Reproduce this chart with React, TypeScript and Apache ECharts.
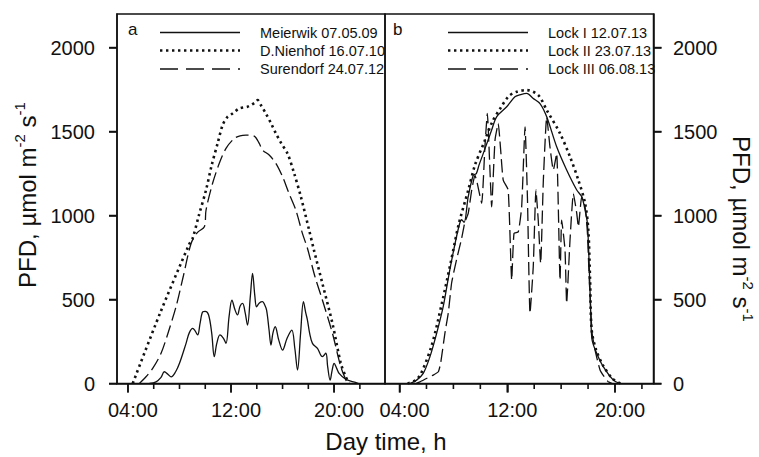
import React, { useEffect, useRef } from "react";
import * as echarts from "echarts";

// ---- data (hour of day, PFD µmol m-2 s-1) ----
const meierwik: [number, number][] = [
  [5.67, 0], [6.18, 10], [6.55, 35], [6.83, 70], [7.1, 55], [7.35, 40], [7.7, 70], [8.0, 120],
  [8.51, 239], [8.75, 300], [9.03, 328], [9.2, 315], [9.41, 289], [9.6, 360], [9.8, 427],
  [10.0, 430], [10.26, 408], [10.5, 300], [10.7, 160], [10.9, 240], [11.14, 289], [11.4, 270],
  [11.61, 239], [11.85, 400], [12.07, 497], [12.3, 440], [12.5, 408], [12.7, 460], [12.9, 477],
  [13.1, 420], [13.28, 348], [13.5, 520], [13.67, 656], [13.85, 520], [13.98, 457], [14.2, 480],
  [14.45, 487], [14.6, 470], [14.76, 437], [14.95, 320], [15.1, 229], [15.25, 300], [15.43, 338],
  [15.7, 260], [16.0, 199], [16.35, 270], [16.72, 318], [16.95, 210], [17.16, 80], [17.4, 300],
  [17.62, 487], [17.8, 420], [17.93, 378], [18.1, 300], [18.32, 239], [18.71, 209], [19.09, 160],
  [19.36, 180], [19.5, 100], [19.69, 20], [19.85, 80], [20.0, 120], [20.2, 90], [20.39, 60],
  [20.9, 25], [21.5, 10], [21.9, 0],
];
const nienhof: [number, number][] = [
  [4.37, 0], [6.5, 420], [8.76, 830], [9.02, 864], [9.5, 1000], [10.06, 1152], [10.5, 1300],
  [10.96, 1430], [11.35, 1539], [11.7, 1585], [12.12, 1608], [12.64, 1638], [13.28, 1648],
  [13.6, 1660], [13.93, 1677], [14.06, 1687], [14.3, 1660], [14.7, 1608], [15.1, 1550],
  [15.48, 1489], [15.9, 1430], [16.38, 1370], [16.9, 1251], [17.42, 1112], [18.06, 914],
  [18.45, 790], [19.09, 596], [19.87, 358], [20.52, 120], [20.9, 40], [21.16, 0],
];
const surendorf: [number, number][] = [
  [4.89, 0], [5.4, 40], [5.92, 90], [6.57, 180], [7.15, 310], [7.73, 457], [8.3, 640], [8.9, 834],
  [9.4, 900], [9.93, 933], [10.06, 1033], [10.57, 1192], [11.09, 1311], [11.61, 1400],
  [12.25, 1459], [12.7, 1475], [13.16, 1479], [13.8, 1473], [14.19, 1430], [14.45, 1390],
  [14.96, 1360], [15.48, 1311], [16.0, 1231], [16.5, 1132], [17.03, 1033], [17.54, 894],
  [17.93, 805], [18.5, 640], [19.09, 497], [19.87, 299], [20.52, 100], [21.03, 0],
];
const lockI: [number, number][] = [
  [4.77, 0], [5.27, 20], [5.76, 60], [6.26, 160], [6.76, 300], [7.25, 460], [7.74, 680],
  [8.36, 920], [8.61, 975], [8.8, 960], [9.1, 1112], [9.48, 1241], [9.7, 1250], [9.9, 1300],
  [10.22, 1370], [10.84, 1509], [11.21, 1588], [11.96, 1648], [12.57, 1707], [13.0, 1720],
  [13.44, 1727], [13.93, 1697], [14.43, 1667], [14.93, 1588], [15.67, 1409], [16.41, 1271],
  [17.16, 1152], [17.53, 1112], [17.78, 1033], [17.95, 953], [18.08, 715], [18.2, 418],
  [18.3, 259], [18.64, 180], [19.13, 100], [19.88, 20], [20.37, 0],
];
const lockII: [number, number][] = [
  [4.6, 0], [5.2, 20], [5.6, 60], [6.4, 230], [7.15, 480], [7.8, 720], [8.4, 950], [9.1, 1150],
  [9.6, 1300], [10.3, 1440], [10.9, 1560], [11.5, 1640], [12.1, 1710], [12.7, 1737],
  [13.44, 1747], [14.3, 1717], [14.93, 1628], [15.92, 1489], [16.66, 1350], [17.28, 1211],
  [17.78, 1073], [18.02, 914], [18.15, 616], [18.27, 318], [18.6, 200], [19.1, 110],
  [19.8, 30], [20.4, 0],
];
const lockIII: [number, number][] = [
  [5.2, 0], [5.52, 10], [6.0, 30], [6.5, 50], [6.88, 70], [7.05, 120], [7.37, 300], [7.62, 420],
  [7.87, 600], [8.24, 740], [8.6, 860], [8.85, 960], [9.1, 1013], [9.36, 1152], [9.6, 1240],
  [9.75, 1200], [10.1, 1073], [10.34, 1409], [10.52, 1608], [10.7, 1300], [10.84, 1052],
  [11.09, 1449], [11.33, 1548], [11.5, 1400], [11.7, 1211], [12.07, 1152], [12.33, 616],
  [12.5, 894], [12.82, 903], [13.07, 1052], [13.32, 1528], [13.5, 1100], [13.69, 418],
  [13.93, 695], [14.13, 1152], [14.3, 973], [14.48, 715], [14.68, 1211], [14.93, 1588],
  [15.17, 1409], [15.42, 1271], [15.67, 1370], [15.92, 616], [16.04, 973], [16.29, 794],
  [16.41, 477], [16.66, 854], [16.91, 1132], [17.16, 1013], [17.28, 933], [17.53, 1112],
  [17.78, 1052], [17.95, 900], [18.1, 600], [18.3, 300], [18.52, 199], [18.89, 80],
  [19.2, 40], [19.5, 10], [19.8, 0],
];

const panelALabels = ["Meierwik 07.05.09", "D.Nienhof 16.07.10", "Surendorf 24.07.12"];
const panelBLabels = ["Lock I 12.07.13", "Lock II 23.07.13", "Lock III 06.08.13"];
const majorHours = [4, 12, 20];
const minorHours = [6, 8, 10, 14, 16, 18, 22];
const yTicks = [0, 500, 1000, 1500, 2000];

const FONT = "'Liberation Sans', Arial, sans-serif";
const INK = "#111";
const SOLID = { color: INK, width: 1.3, type: "solid" as const };
const DOTTED = { color: INK, width: 2.6, type: [2.4, 3.6], cap: "butt" as const };
const DASHED = { color: INK, width: 1.3, type: [13, 5] };

const GRIDS = [
  { left: 117, top: 14, width: 268, height: 369.5, xMin: 3.15, xMax: 23.95 },
  { left: 385, top: 14, width: 268.5, height: 369.5, xMin: 2.92, xMax: 22.86 },
];
const Y_MAX = 2200;

const fmtHour = (v: number) => (v < 10 ? "0" : "") + v + ":00";

function xAx(grid: number) {
  const g = GRIDS[grid];
  return {
    gridIndex: grid, type: "value", min: g.xMin, max: g.xMax, position: "bottom",
    axisLine: { show: true, onZero: false, lineStyle: { color: INK, width: 1.5 } },
    axisTick: { show: true, inside: false, length: 9, customValues: majorHours, lineStyle: { color: INK, width: 1.5 } },
    axisLabel: {
      show: true, customValues: majorHours, formatter: fmtHour, margin: 16, fontSize: 20,
      color: INK, fontFamily: FONT, padding: [0, 0, 0, 10],
    },
    splitLine: { show: false },
  };
}
function yAx(grid: number, pos: "left" | "right", margin: number) {
  return {
    gridIndex: grid, type: "value", min: 0, max: Y_MAX, position: pos,
    axisLine: { show: true, lineStyle: { color: INK, width: 1.5 } },
    axisTick: { show: true, inside: false, length: 8, customValues: yTicks, lineStyle: { color: INK, width: 1.5 } },
    axisLabel: {
      show: true, customValues: yTicks, margin, fontSize: 20, color: INK, fontFamily: FONT,
      formatter: (v: number) => String(v),
    },
    splitLine: { show: false },
  };
}

function legend(x1: number, textX: number, labels: string[], letter: string, letterX: number) {
  const ys = [32.5, 50.5, 69];
  const styles = [
    { stroke: INK, lineWidth: 1.3 },
    { stroke: INK, lineWidth: 2.6, lineDash: [2.4, 3.6] },
    { stroke: INK, lineWidth: 1.3, lineDash: [18, 8] },
  ];
  const els: any[] = [];
  ys.forEach((y, i) => {
    els.push({ type: "line", shape: { x1, y1: y, x2: x1 + 80, y2: y }, style: styles[i], silent: true });
    els.push({
      type: "text", x: textX, y,
      style: { text: labels[i], fontSize: 14.5, fontFamily: FONT, fill: INK, align: "left", verticalAlign: "middle" },
    });
  });
  els.push({
    type: "text", x: letterX, y: 29,
    style: { text: letter, fontSize: 17, fontFamily: FONT, fill: INK, align: "left", verticalAlign: "middle" },
  });
  return els;
}

const titleRich = {
  n: { fontSize: 24, lineHeight: 30, fontFamily: FONT, fill: INK, color: INK },
  s: { fontSize: 15, lineHeight: 15, fontFamily: FONT, fill: INK, color: INK, verticalAlign: "top" },
};

export default function App() {
  const ref = useRef<HTMLDivElement>(null);
  useEffect(() => {
    if (!ref.current) return;
    const chart = echarts.init(ref.current, undefined, { renderer: "svg" });
    const line = (name: string, data: [number, number][], idx: number, ls: any, smooth: number) => ({
      name, type: "line", data, xAxisIndex: idx, yAxisIndex: idx, showSymbol: false, symbol: "none",
      smooth, lineStyle: ls, silent: true, z: 3,
    });
    chart.setOption({
      animation: false,
      backgroundColor: "#fff",
      grid: GRIDS.map((g) => ({
        left: g.left, top: g.top, width: g.width, height: g.height, show: true, borderColor: INK,
        borderWidth: 1.5, backgroundColor: "transparent", outerBoundsMode: "none",
      })),
      xAxis: [xAx(0), xAx(1)],
      yAxis: [yAx(0, "left", 22), yAx(1, "right", 19.5)],
      series: [
        line(panelALabels[0], meierwik, 0, SOLID, 0.35),
        line(panelALabels[1], nienhof, 0, DOTTED, 0.3),
        line(panelALabels[2], surendorf, 0, DASHED, 0.3),
        line(panelBLabels[0], lockI, 1, SOLID, 0.3),
        line(panelBLabels[1], lockII, 1, DOTTED, 0.3),
        line(panelBLabels[2], lockIII, 1, DASHED, 0.15),
      ],
    });

    // axis tick marks, positioned through the chart's scales (with a linear fallback)
    const toPx = (idx: number, h: number, v: number): [number, number] => {
      let r: any = null;
      try { r = chart.convertToPixel({ gridIndex: idx } as any, [h, v]); } catch (e) { r = null; }
      if (Array.isArray(r) && isFinite(r[0]) && isFinite(r[1])) return [r[0], r[1]];
      const g = GRIDS[idx];
      return [
        g.left + ((h - g.xMin) / (g.xMax - g.xMin)) * g.width,
        g.top + g.height - (v / Y_MAX) * g.height,
      ];
    };
    const tickEls: any[] = [];
    const tickRect = (x: number, y: number, w: number, h: number) =>
      tickEls.push({ type: "rect", silent: true, z: 100, shape: { x, y, width: w, height: h }, style: { fill: INK } });
    [0, 1].forEach((idx) => {
      minorHours.forEach((h) => { const [x, y] = toPx(idx, h, 0); tickRect(x - 0.8, y, 1.6, 5.5); });
      majorHours.forEach((h) => { const [x, y] = toPx(idx, h, 0); tickRect(x - 0.8, y, 1.6, 9); });
      yTicks.forEach((v) => {
        const g = GRIDS[idx];
        const [, y] = toPx(idx, g.xMin, v);
        if (idx === 0) tickRect(g.left - 8, y - 0.8, 8, 1.6);
        else tickRect(g.left + g.width, y - 0.8, 8, 1.6);
      });
    });

    chart.setOption({
      graphic: [
        ...legend(160, 260, panelALabels, "a", 128),
        ...legend(448, 548, panelBLabels, "b", 393),
        {
          type: "text", x: 386, y: 441,
          style: { text: "Day time, h", fontSize: 24, fontFamily: FONT, fill: INK, align: "center", verticalAlign: "middle" },
        },
        {
          type: "text", x: 27, y: 195, rotation: Math.PI / 2,
          style: { text: "{n|PFD, µmol m}{s|-2}{n| s}{s|-1}", rich: titleRich, align: "center", verticalAlign: "middle" },
        },
        {
          type: "text", x: 741, y: 229, rotation: -Math.PI / 2,
          style: { text: "{n|PFD, µmol m}{s|-2}{n| s}{s|-1}", rich: titleRich, align: "center", verticalAlign: "middle" },
        },
        ...tickEls,
      ],
    });
    return () => chart.dispose();
  }, []);
  return <div ref={ref} style={{ position: "fixed", left: 0, top: 0, width: 759, height: 457, background: "#fff" }} />;
}
